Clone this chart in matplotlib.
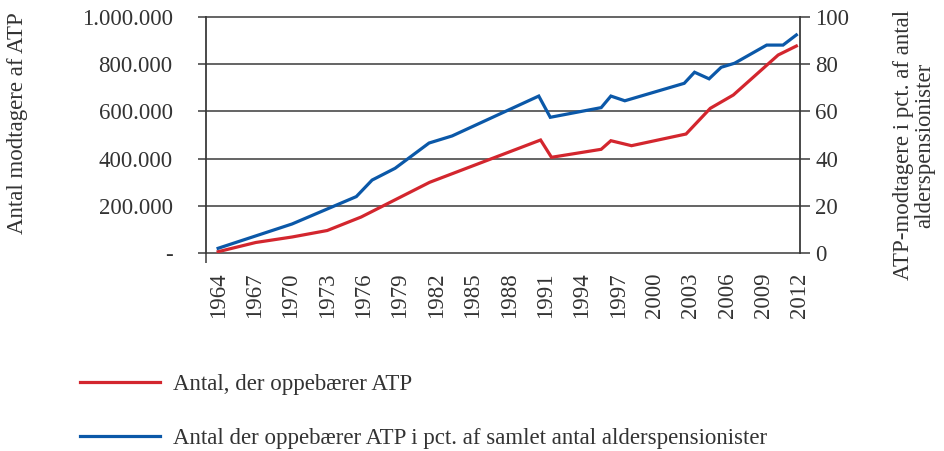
import matplotlib
matplotlib.use("Agg")
import matplotlib.pyplot as plt
from matplotlib.ticker import FuncFormatter

# values (decimal years where the kinks fall)
years_count = [1964.0, 1967.1, 1970.1, 1973.0, 1975.8, 1981.45, 1990.6, 1991.5,
               1995.6, 1996.4, 1998.1, 2002.6, 2004.6, 2006.5, 2010.2, 2011.7]
count = [5500, 44500, 67800, 95300, 152500, 299600, 478800, 405500,
         439400, 475800, 454700, 504200, 613100, 669500, 839000, 877000]

years_pct = [1964.0, 1970.1, 1975.4, 1976.7, 1978.6, 1981.4, 1983.3, 1990.45,
             1991.4, 1995.6, 1996.4, 1997.55, 2002.45, 2003.3, 2004.5, 2005.5,
             2006.6, 2009.25, 2010.6, 2011.7]
pct = [2.0, 12.3, 23.9, 30.9, 35.9, 46.6, 49.6, 66.5,
       57.5, 61.6, 66.5, 64.5, 71.9, 76.6, 73.8, 78.7,
       80.4, 88.1, 88.1, 92.4]

label_years = list(range(1964, 2013, 3))
mark_years = [1963] + list(range(1967, 2013, 3))
left_ticks = [0, 200000, 400000, 600000, 800000, 1000000]
right_ticks = [0, 20, 40, 60, 80, 100]

RED = "#D3262E"
BLUE = "#0B58A8"
INK = "#333333"
GRID = "#3a3a3a"

plt.rcParams.update({
    "font.family": ["Liberation Serif", "DejaVu Serif"],
    "font.size": 16.5,
    "text.color": INK,
})

fig = plt.figure(figsize=(9.45, 4.51), dpi=100)
ax1 = fig.add_axes([206 / 945, 1 - 253 / 451, (800 - 206) / 945, (253 - 17) / 451])
ax2 = ax1.twinx()

l1, = ax1.plot(years_count, count, color=RED, lw=2.3, solid_joinstyle="miter",
               label="Antal, der oppebærer ATP", zorder=3)
l2, = ax2.plot(years_pct, pct, color=BLUE, lw=2.3, solid_joinstyle="miter",
               label="Antal der oppebærer ATP i pct. af samlet antal alderspensionister",
               zorder=3)

ax1.set_xlim(1963, 2012)
ax1.set_ylim(0, 1000000)
ax2.set_ylim(0, 100)

for y in left_ticks:
    ax1.axhline(y, color=GRID, lw=1.1, zorder=1, clip_on=False)

ax1.set_yticks(left_ticks)
ax1.yaxis.set_major_formatter(FuncFormatter(
    lambda v, p: "-" if v == 0 else f"{int(v):,}".replace(",", ".")))
ax2.set_yticks(right_ticks)

ax1.set_xticks(label_years)
ax1.set_xticklabels([str(y) for y in label_years], rotation=90)
ax1.set_xticks(mark_years, minor=True)
ax1.tick_params(axis="x", which="major", length=0, pad=14, labelcolor=INK)
ax1.tick_params(axis="x", which="minor", length=7, width=1.1, color=GRID, direction="out")
ax1.tick_params(axis="y", length=6, width=1.1, color=GRID, pad=18, labelcolor=INK)
ax2.tick_params(axis="y", length=7, width=1.1, color=GRID, pad=4, labelcolor=INK)

for ax in (ax1, ax2):
    for side in ("top", "bottom"):
        ax.spines[side].set_visible(False)
    for side in ("left", "right"):
        ax.spines[side].set_color(GRID)
        ax.spines[side].set_linewidth(1.3)
ax1.spines["right"].set_visible(False)
ax2.spines["left"].set_visible(False)

fig.text(18 / 945, 1 - 123 / 451, "Antal modtagere af ATP",
         rotation=90, ha="center", va="center")
fig.text(914 / 945, 1 - 145 / 451, "ATP-modtagere i pct. af antal\nalderspensionister",
         rotation=90, ha="center", va="center", multialignment="center", linespacing=1.0)

fig.legend(handles=[l1, l2], loc="upper left", bbox_to_anchor=(80 / 945, 1 - 374 / 451),
           frameon=False, borderpad=0, borderaxespad=0, handlelength=3.5,
           handletextpad=0.55, labelspacing=1.45)

fig.savefig("out.png", dpi=100)
